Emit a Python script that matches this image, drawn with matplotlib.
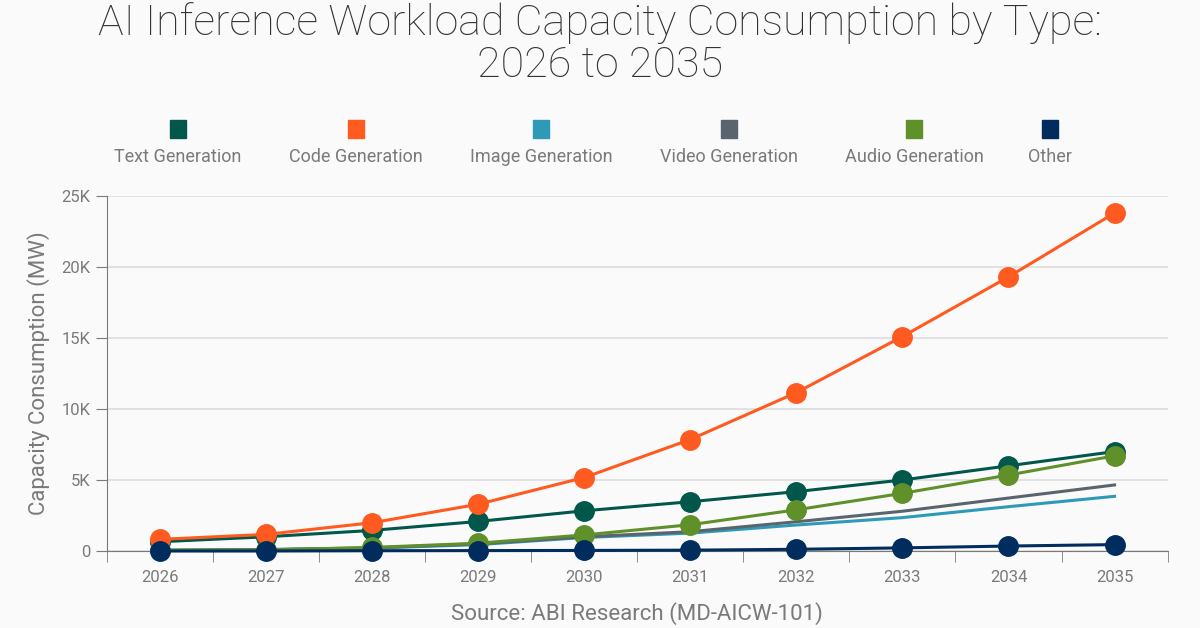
from matplotlib import pyplot as plt
from matplotlib.patches import Rectangle
from matplotlib.ticker import FuncFormatter, FixedLocator
import numpy as np

years = [2026, 2027, 2028, 2029, 2030, 2031, 2032, 2033, 2034, 2035]

text_gen = [0.65, 1.0, 1.45, 2.08, 2.83, 3.47, 4.18, 5.0, 6.0, 7.0]
code_gen = [0.82, 1.17, 1.99, 3.29, 5.17, 7.85, 11.15, 15.1, 19.3, 23.8]
image_gen = [0.05, 0.1, 0.2, 0.45, 0.95, 1.26, 1.83, 2.35, 3.12, 3.85]
video_gen = [0.05, 0.1, 0.22, 0.5, 1.0, 1.36, 2.06, 2.8, 3.73, 4.65]
audio_gen = [0.05, 0.08, 0.25, 0.55, 1.13, 1.85, 2.9, 4.06, 5.35, 6.7]
other = [0.0, 0.0, 0.02, 0.03, 0.04, 0.06, 0.12, 0.22, 0.35, 0.45]

labels = ["Text Generation", "Code Generation", "Image Generation",
          "Video Generation", "Audio Generation", "Other"]
colors = ["#00574a", "#ff5a1f", "#2e9ab8", "#5a646e", "#5f9029", "#002d5e"]

plt.rcParams['font.family'] = ['Roboto', 'DejaVu Sans']
bg = "#fafafa"
grey = "#7a7a7a"

fig = plt.figure(figsize=(12, 6.28), dpi=100, facecolor=bg)
ax = fig.add_axes([0.089, 0.1226, 0.884, 0.5654], facecolor=bg)

x = np.arange(len(years))
series = [text_gen, code_gen, image_gen, video_gen, audio_gen, other]
markers = [True, True, False, False, True, True]
draw_order = [2, 3, 0, 4, 1, 5]
for z, i in enumerate(draw_order):
    ax.plot(x, series[i], color=colors[i], lw=2.2,
            marker="o" if markers[i] else None, markersize=14,
            zorder=3 + z, clip_on=False)

ax.set_xlim(-0.5, len(years) - 0.5)
ax.set_ylim(0, 25)
ax.set_yticks([0, 5, 10, 15, 20, 25])
ax.yaxis.set_major_formatter(FuncFormatter(lambda v, p: "0" if v == 0 else "%dK" % v))
ax.set_xticks(x)
ax.set_xticklabels([str(y) for y in years])
ax.xaxis.set_minor_locator(FixedLocator(np.arange(-0.5, len(years), 1.0)))
ax.tick_params(axis="x", which="major", length=0, pad=14, labelsize=12, labelcolor=grey)
ax.tick_params(axis="x", which="minor", length=8, color=grey, direction="out")
ax.tick_params(axis="y", length=8, color=grey, labelsize=12, labelcolor=grey, pad=4)

ax.grid(axis="y", color="#dcdcdc", lw=1.2)
ax.set_axisbelow(True)
for s in ["top", "right"]:
    ax.spines[s].set_visible(False)
ax.spines["left"].set_color(grey)
ax.spines["bottom"].set_color(grey)

ax.set_ylabel("Capacity Consumption (MW)", fontsize=16, color=grey, labelpad=8)
ax.set_xlabel("Source: ABI Research (MD-AICW-101)", fontsize=16, color=grey, labelpad=12)

fig.text(0.5, 0.93, "AI Inference Workload Capacity Consumption by Type:\n2026 to 2035",
         ha="center", va="center", fontsize=31, color="#333333",
         fontweight="light", linespacing=1.05)

# legend drawn by hand: swatch above label
legend_x = [178, 356, 541, 729, 914, 1050]
for lx, lab, col in zip(legend_x, labels, colors):
    fig.add_artist(Rectangle((lx / 1200 - 8 / 1200, 1 - 138 / 628), 16 / 1200, 18 / 628,
                             transform=fig.transFigure, color=col))
    fig.text(lx / 1200, 1 - 157 / 628, lab, ha="center", va="center",
             fontsize=13, color=grey)

fig.savefig("out.png", dpi=100, facecolor=bg)
